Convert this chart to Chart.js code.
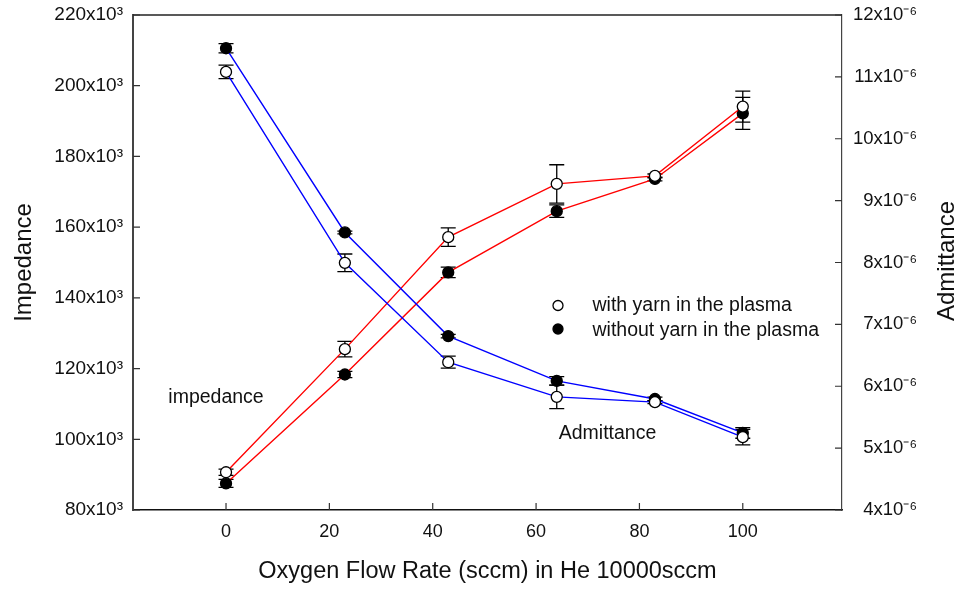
<!DOCTYPE html>
<html>
<head>
<meta charset="utf-8">
<script src="https://cdn.jsdelivr.net/npm/chart.js@4.4.0/dist/chart.umd.min.js"></script>
<style>
  body { margin: 0; background: #fff; }
  #wrap { width: 962px; height: 589px; }
</style>
</head>
<body>
<div id="wrap"><canvas id="chart" width="962" height="589"></canvas></div>
<script>
const flow = [0, 23, 43, 64, 83, 100];

// impedance, x10^3
const impWith = [203.9, 149.9, 121.8, 112.0, 110.5, 100.6];
const impWithErr = [1.9, 2.5, 1.7, 3.3, 0.4, 2.2];
const impWithout = [210.6, 158.5, 129.2, 116.5, 111.4, 101.8];
const impWithoutErr = [1.3, 0.4, 0.5, 1.2, 0.5, 1.5];

// admittance, x10^-6
const admWith = [4.61, 6.60, 8.41, 9.27, 9.40, 10.52];
const admWithErr = [0.05, 0.125, 0.15, 0.31, 0.03, 0.25];
const admWithout = [4.43, 6.19, 7.84, 8.83, 9.35, 10.41];
const admWithoutErr = [0.065, 0.05, 0.085, 0.1, 0.03, 0.26];

const xTicks = [0, 20, 40, 60, 80, 100];
const impTicks = [80, 100, 120, 140, 160, 180, 200, 220];
const admTicks = [4, 5, 6, 7, 8, 9, 10, 11, 12];

const FONT = "'Liberation Sans', Arial, sans-serif";
Chart.defaults.font.family = FONT;
Chart.defaults.color = "#111";

function serie(label, vals, errs, axis, color, filled) {
  return {
    label: label,
    yAxisID: axis,
    errors: errs,
    data: flow.map((x, i) => ({ x: x, y: vals[i] })),
    borderColor: color,
    borderWidth: 1.4,
    pointRadius: 5.5,
    pointHoverRadius: 5.5,
    pointBorderColor: "#000",
    pointBorderWidth: 1.3,
    pointBackgroundColor: filled ? "#000" : "#fff",
    tension: 0
  };
}

// fixed box size, no extra label padding
function fixBox(w, h) {
  return s => {
    if (w) s.width = w;
    if (h) s.height = h;
    s.paddingTop = 0; s.paddingBottom = 0;
    s.paddingLeft = 0; s.paddingRight = 0;
  };
}

/* error bars, inward ticks, frame, labels */
const extras = {
  id: "extras",
  beforeDatasetsDraw(chart) {
    const ctx = chart.ctx;
    const x = chart.scales.x;
    ctx.save();
    ctx.strokeStyle = "#000";
    ctx.lineWidth = 1.3;
    chart.data.datasets.forEach(ds => {
      const y = chart.scales[ds.yAxisID];
      ds.data.forEach((p, i) => {
        const px = x.getPixelForValue(p.x);
        const top = y.getPixelForValue(p.y + ds.errors[i]);
        const bot = y.getPixelForValue(p.y - ds.errors[i]);
        ctx.beginPath();
        ctx.moveTo(px, top); ctx.lineTo(px, bot);
        ctx.moveTo(px - 7.5, top); ctx.lineTo(px + 7.5, top);
        ctx.moveTo(px - 7.5, bot); ctx.lineTo(px + 7.5, bot);
        ctx.stroke();
      });
    });
    ctx.restore();
  },
  afterDraw(chart) {
    const ctx = chart.ctx;
    const a = chart.chartArea;
    const x = chart.scales.x, yl = chart.scales.yImp, yr = chart.scales.yAdm;
    ctx.save();

    // top frame line
    ctx.strokeStyle = "#222";
    ctx.lineWidth = 1.6;
    ctx.beginPath();
    ctx.moveTo(a.left, a.top); ctx.lineTo(a.right, a.top);
    ctx.stroke();

    // inward ticks
    ctx.lineWidth = 1.2;
    ctx.strokeStyle = "#333";
    ctx.beginPath();
    xTicks.forEach(v => {
      const px = x.getPixelForValue(v);
      ctx.moveTo(px, a.bottom); ctx.lineTo(px, a.bottom - 7);
    });
    impTicks.forEach(v => {
      const py = yl.getPixelForValue(v);
      ctx.moveTo(a.left, py); ctx.lineTo(a.left + 7, py);
    });
    admTicks.forEach(v => {
      const py = yr.getPixelForValue(v);
      ctx.moveTo(a.right, py); ctx.lineTo(a.right - 7, py);
    });
    ctx.stroke();

    // annotations
    ctx.fillStyle = "#111";
    ctx.font = "19.5px " + FONT;
    ctx.textBaseline = "middle";
    ctx.textAlign = "center";
    ctx.fillText("impedance", 216, 398);
    ctx.fillText("Admittance", 607.5, 433.5);

    // legend
    ctx.textAlign = "left";
    ctx.fillText("with yarn in the plasma", 592.5, 306);
    ctx.fillText("without yarn in the plasma", 592.5, 330.5);
    ctx.lineWidth = 1.3;
    ctx.strokeStyle = "#000";
    ctx.beginPath();
    ctx.arc(558, 305.5, 5, 0, Math.PI * 2);
    ctx.fillStyle = "#fff";
    ctx.fill();
    ctx.stroke();
    ctx.beginPath();
    ctx.arc(558, 329, 5, 0, Math.PI * 2);
    ctx.fillStyle = "#000";
    ctx.fill();
    ctx.stroke();

    // right axis title, reads upward
    ctx.fillStyle = "#111";
    ctx.font = "24px " + FONT;
    ctx.textAlign = "center";
    ctx.translate(947.5, 261);
    ctx.rotate(-Math.PI / 2);
    ctx.fillText("Admittance", 0, 0);
    ctx.restore();
  }
};

new Chart(document.getElementById("chart"), {
  type: "line",
  data: {
    datasets: [
      serie("impedance, with yarn in the plasma", impWith, impWithErr, "yImp", "#0000ff", false),
      serie("impedance, without yarn in the plasma", impWithout, impWithoutErr, "yImp", "#0000ff", true),
      serie("admittance, with yarn in the plasma", admWith, admWithErr, "yAdm", "#ff0000", false),
      serie("admittance, without yarn in the plasma", admWithout, admWithoutErr, "yAdm", "#ff0000", true)
    ]
  },
  options: {
    responsive: false,
    animation: false,
    layout: { autoPadding: false, padding: { top: 15, left: 0, right: 45, bottom: 0 } },
    plugins: {
      legend: { display: false },
      tooltip: { enabled: false }
    },
    scales: {
      x: {
        type: "linear",
        min: -18,
        max: 119.2,
        afterBuildTicks: s => { s.ticks = xTicks.map(v => ({ value: v })); },
        afterFit: fixBox(0, 79),
        grid: { display: false, drawTicks: false },
        border: { display: true, color: "#111", width: 1.6 },
        ticks: { font: { size: 18 }, padding: 11 },
        title: {
          display: true,
          text: "Oxygen Flow Rate (sccm) in He 10000sccm",
          font: { size: 23.5 },
          padding: { top: 0, bottom: 3 }
        }
      },
      yImp: {
        type: "linear",
        position: "left",
        min: 80,
        max: 220,
        afterBuildTicks: s => { s.ticks = impTicks.map(v => ({ value: v })); },
        afterFit: fixBox(133, 0),
        grid: { display: false, drawTicks: false },
        border: { display: true, color: "#444", width: 2 },
        ticks: {
          font: { size: 19 },
          padding: 10,
          callback: v => v + "x10\u00B3"
        },
        title: {
          display: true,
          text: "Impedance",
          font: { size: 24 },
          padding: { top: 9.5, bottom: 0 }
        }
      },
      yAdm: {
        type: "linear",
        position: "right",
        min: 4,
        max: 12,
        afterBuildTicks: s => { s.ticks = admTicks.map(v => ({ value: v })); },
        afterFit: fixBox(75, 0),
        grid: { display: false, drawTicks: false },
        border: { display: true, color: "#444", width: 1.2 },
        ticks: {
          font: { size: 18.5 },
          padding: 10,
          crossAlign: "far",
          callback: v => v + "x10\u207B\u2076"
        }
      }
    }
  },
  plugins: [extras]
});
</script>
</body>
</html>
